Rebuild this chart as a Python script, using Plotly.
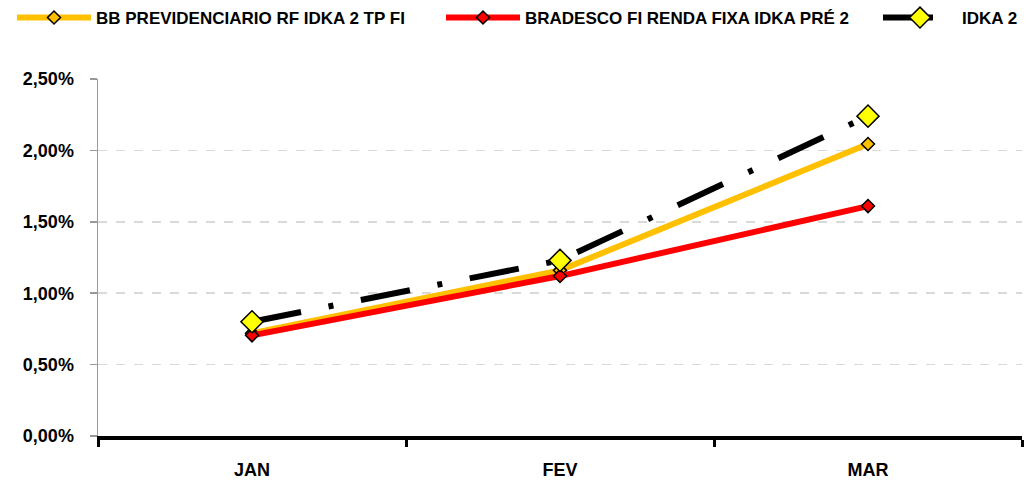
import plotly.graph_objects as go

categories = ["JAN", "FEV", "MAR"]
bb_prev = [0.72, 1.16, 2.045]
bradesco = [0.705, 1.12, 1.61]
idka2 = [0.80, 1.23, 2.24]
y_ticks = [0, 0.5, 1.0, 1.5, 2.0, 2.5]
y_ticktext = ["0,00%", "0,50%", "1,00%", "1,50%", "2,00%", "2,50%"]

FONT = "Liberation Sans, Arial, sans-serif"
PLOT_L, PLOT_W = 98, 924

def px_to_paper(px):
    return (px - PLOT_L) / PLOT_W

fig = go.Figure()
fig.add_trace(go.Scatter(
    x=categories, y=bb_prev, name="BB PREVIDENCIARIO RF IDKA 2 TP FI",
    mode="lines+markers", legend="legend",
    line=dict(color="#FFC000", width=6),
    marker=dict(symbol="diamond", size=10, color="#FFC000", line=dict(color="#000000", width=1.5)),
))
fig.add_trace(go.Scatter(
    x=categories, y=bradesco, name="BRADESCO FI RENDA FIXA IDKA PRÉ 2",
    mode="lines+markers", legend="legend2",
    line=dict(color="#FF0000", width=6),
    marker=dict(symbol="diamond", size=10, color="#FF0000", line=dict(color="#000000", width=1.5)),
))
fig.add_trace(go.Scatter(
    x=categories, y=idka2, name="IDKA 2",
    mode="lines+markers", legend="legend3",
    line=dict(color="#000000", width=6, dash="50px,28px,5px,28px"),
    marker=dict(symbol="diamond", size=17, color="#FFFF00", line=dict(color="#000000", width=1.5)),
))

legfont = dict(size=17, family=FONT, weight="bold", color="#000000")
def leg(px):
    return dict(orientation="h", x=px_to_paper(px), xanchor="left",
                y=1 - 18 / 480, yanchor="middle", yref="container",
                font=legfont, itemwidth=74, bgcolor="rgba(0,0,0,0)")

fig.update_layout(
    width=1030, height=480,
    margin=dict(l=PLOT_L, r=8, t=79, b=44, autoexpand=False),
    paper_bgcolor="white", plot_bgcolor="white",
    separators=",.",
    font=dict(family=FONT, size=15, color="#000000"),
    showlegend=True,
    legend=leg(12), legend2=leg(441), legend3=leg(878),
    hovermode=False,
)

fig.update_xaxes(
    type="category", range=[-0.5, 2.5], automargin=False,
    showline=True, linecolor="#000000", linewidth=4,
    ticks="outside", tickson="boundaries", ticklen=7, tickwidth=3, tickcolor="#000000",
    tickfont=dict(size=18, family=FONT, weight="bold"),
    ticklabelstandoff=14,
    showgrid=False, zeroline=False,
)
fig.update_yaxes(
    range=[0, 2.5], tickvals=y_ticks, ticktext=y_ticktext, automargin=False,
    showline=True, linecolor="#999999", linewidth=1.5,
    ticks="outside", ticklen=7, tickwidth=1.5, tickcolor="#999999",
    tickfont=dict(size=18, family=FONT, weight="bold"),
    ticklabelstandoff=12,
    showgrid=True, gridcolor="#D9D9D9", griddash="dash", gridwidth=1.5,
    zeroline=False,
)

fig.write_html("out.html", config={"displayModeBar": False, "staticPlot": True},
               post_script="document.body.style.margin='0';document.body.style.overflow='hidden';")
